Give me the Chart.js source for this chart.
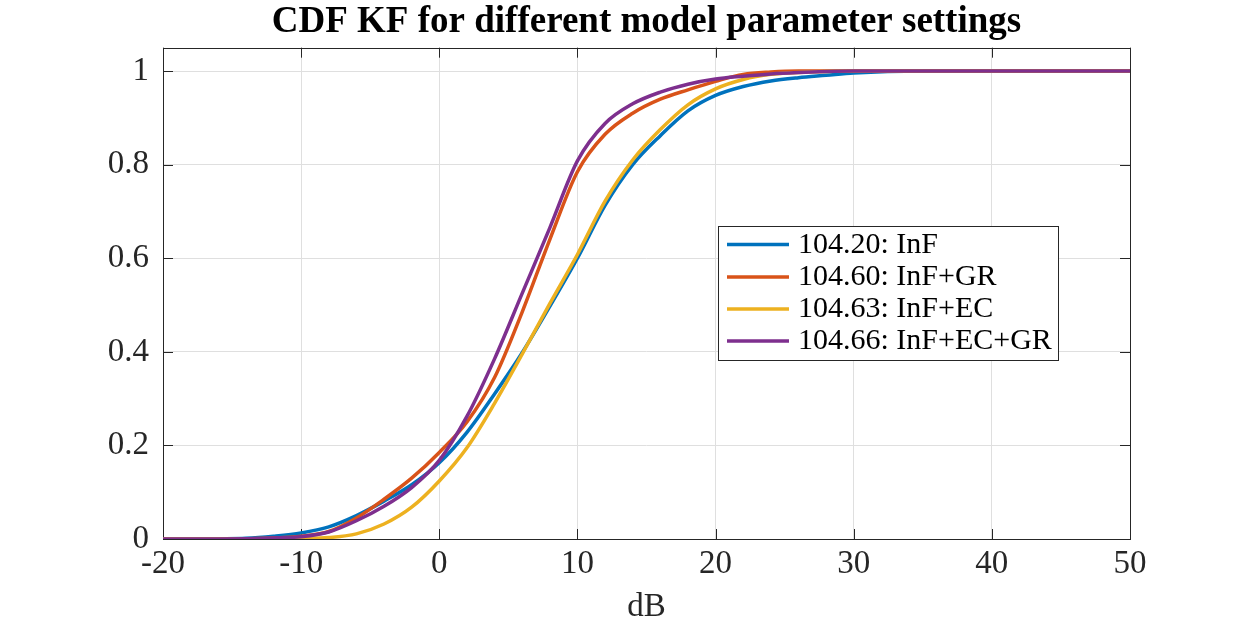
<!DOCTYPE html>
<html>
<head>
<meta charset="utf-8">
<script src="https://cdn.jsdelivr.net/npm/chart.js@4.4.0/dist/chart.umd.min.js"></script>
<style>
  html, body { margin: 0; padding: 0; background: #ffffff; }
  #wrap { width: 1250px; height: 625px; position: relative; }
</style>
</head>
<body>
<div id="wrap"><canvas id="c" width="1250" height="625"></canvas></div>
<script>
// ---- data ----
const xValues = [-20,-18,-16,-14,-12,-10,-8,-6,-4,-2,0,2,4,6,8,10,12,14,16,18,20,22,24,26,28,30,35,50];
const seriesInF      = [0,0,0.0005,0.0015,0.006,0.013,0.026,0.05,0.081,0.116,0.163,0.228,0.31,0.398,0.497,0.6,0.713,0.8,0.862,0.915,0.948,0.967,0.979,0.986,0.991,0.996,1,1];
const seriesInFGR    = [0,0,0,0.0005,0.002,0.006,0.016,0.045,0.085,0.13,0.185,0.25,0.345,0.485,0.64,0.785,0.865,0.91,0.94,0.96,0.978,0.993,0.998,1,1,1,1,1];
const seriesInFEC    = [0,0,0,0,0,0.001,0.003,0.011,0.032,0.068,0.124,0.195,0.29,0.395,0.503,0.608,0.722,0.81,0.875,0.928,0.962,0.982,0.993,0.997,0.999,1,1,1];
const seriesInFECGR  = [0,0,0,0.0005,0.002,0.005,0.015,0.039,0.07,0.11,0.168,0.262,0.385,0.525,0.665,0.808,0.888,0.93,0.955,0.972,0.983,0.989,0.994,0.997,0.999,1,1,1];
const seriesLabels = ['104.20: InF', '104.60: InF+GR', '104.63: InF+EC', '104.66: InF+EC+GR'];
const xTicks = [-20,-10,0,10,20,30,40,50];
const yTicks = [0,0.2,0.4,0.6,0.8,1];
const titleText = 'CDF KF for different model parameter settings';
const xLabel = 'dB';

const colors = ['#0072BD', '#D95319', '#EDB120', '#7E2F8E'];
const allSeries = [seriesInF, seriesInFGR, seriesInFEC, seriesInFECGR];
const FONT = '"Liberation Serif", "Times New Roman", serif';
const AXIS = '#262626';

function pts(ys) { return xValues.map((x, i) => ({ x: x, y: ys[i] })); }

const datasets = allSeries.map((s, i) => ({
  label: seriesLabels[i],
  data: pts(s),
  borderColor: colors[i],
  backgroundColor: colors[i],
  borderWidth: 3.5,
  pointRadius: 0,
  fill: false,
  cubicInterpolationMode: 'monotone',
  order: 4 - i
}));

const boxPlugin = {
  id: 'matlabBox',
  beforeDatasetsDraw(chart) {
    const { ctx, chartArea: a, scales } = chart;
    ctx.save();
    ctx.strokeStyle = AXIS;
    ctx.lineWidth = 1;
    const tl = 10;
    ctx.beginPath();
    xTicks.forEach(v => {
      const px = Math.round(scales.x.getPixelForValue(v)) + 0.5;
      ctx.moveTo(px, a.bottom); ctx.lineTo(px, a.bottom - tl);
      ctx.moveTo(px, a.top); ctx.lineTo(px, a.top + tl);
    });
    yTicks.forEach(v => {
      const py = Math.round(scales.y.getPixelForValue(v)) + 0.5;
      ctx.moveTo(a.left, py); ctx.lineTo(a.left + tl, py);
      ctx.moveTo(a.right, py); ctx.lineTo(a.right - tl, py);
    });
    ctx.stroke();
    ctx.strokeRect(Math.round(a.left) + 0.5, Math.round(a.top) + 0.5,
                   Math.round(a.right - a.left), Math.round(a.bottom - a.top));
    ctx.restore();
  },
  afterDraw(chart) {
    const { ctx } = chart;
    const bx = 718, by = 226, bw = 340, bh = 134;
    ctx.save();
    ctx.fillStyle = '#ffffff';
    ctx.fillRect(bx, by, bw, bh);
    ctx.strokeStyle = AXIS;
    ctx.lineWidth = 1;
    ctx.strokeRect(bx + 0.5, by + 0.5, bw, bh);
    const rows = [245, 277.5, 309.5, 341.5];
    ctx.font = '30px ' + FONT;
    ctx.textBaseline = 'middle';
    ctx.textAlign = 'left';
    seriesLabels.forEach((lab, i) => {
      ctx.strokeStyle = colors[i];
      ctx.lineWidth = 3.5;
      ctx.beginPath();
      ctx.moveTo(727, rows[i] - 0.5);
      ctx.lineTo(789, rows[i] - 0.5);
      ctx.stroke();
      ctx.fillStyle = '#000000';
      ctx.fillText(lab, 798, rows[i]);
    });
    ctx.restore();
  }
};

new Chart(document.getElementById('c'), {
  type: 'line',
  data: { datasets: datasets },
  options: {
    responsive: false,
    animation: false,
    devicePixelRatio: 1,
    layout: { padding: { top: 0, left: 0, right: 120, bottom: 0 } },
    plugins: {
      legend: { display: false },
      tooltip: { enabled: false },
      title: {
        display: true,
        text: titleText,
        fullSize: false,
        color: '#000000',
        font: { family: FONT, size: 37, weight: 'bold', lineHeight: 1.2 },
        padding: { top: 0, bottom: 3.3 }
      }
    },
    scales: {
      x: {
        type: 'linear',
        min: -20, max: 50,
        afterBuildTicks: s => { s.ticks = xTicks.map(v => ({ value: v })); },
        afterFit: s => { s.height = 86; },
        grid: { color: '#dfdfdf', lineWidth: 1, drawTicks: false },
        border: { display: false },
        ticks: { color: '#262626', padding: 6, maxRotation: 0, font: { family: FONT, size: 33 },
                 callback: v => String(v) },
        title: { display: true, text: xLabel, color: '#262626',
                 font: { family: FONT, size: 33, lineHeight: 1.1 }, padding: { top: 0, bottom: 0 } }
      },
      y: {
        type: 'linear',
        min: 0, max: 1.05,
        afterBuildTicks: s => { s.ticks = yTicks.map(v => ({ value: v })); },
        afterFit: s => { s.width = 163; },
        grid: { color: '#dfdfdf', lineWidth: 1, drawTicks: false },
        border: { display: false },
        ticks: { color: '#262626', padding: 14, font: { family: FONT, size: 33 },
                 callback: v => String(Math.round(v * 10) / 10) }
      }
    }
  },
  plugins: [boxPlugin]
});
</script>
</body>
</html>
